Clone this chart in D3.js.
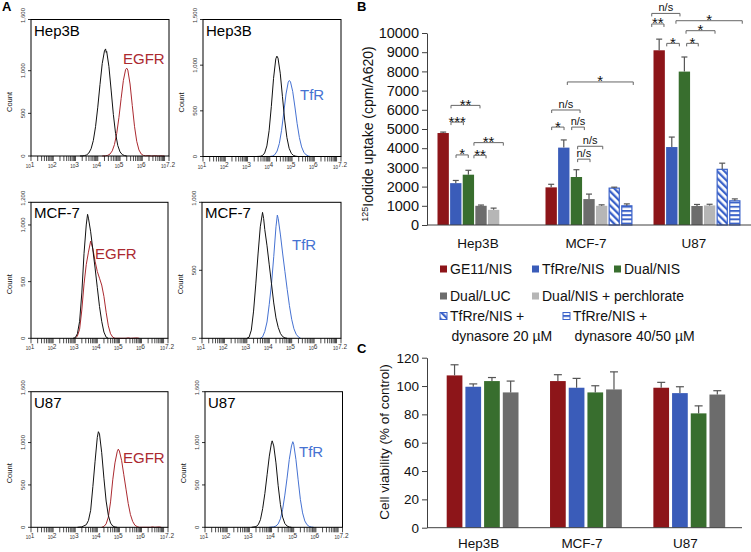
<!DOCTYPE html>
<html><head><meta charset="utf-8">
<script src="https://cdn.jsdelivr.net/npm/d3@7/dist/d3.min.js"></script>
<style>body{margin:0;background:#fff}svg{display:block;font-family:"Liberation Sans",Arial,Helvetica,sans-serif}</style>
</head><body><svg id="c" width="751" height="552"></svg>
<script>
// ---------------- DATA ----------------
const cellLines = ["Hep3B", "MCF-7", "U87"];

// Panel B: 125I uptake (cpm/A620)
const uptakeSeries = ["GE11/NIS", "TfRre/NIS", "Dual/NIS", "Dual/LUC", "Dual/NIS + perchlorate",
  "TfRre/NIS + dynasore 20 µM", "TfRre/NIS + dynasore 40/50 µM"];
const uptakeMean = [
  [4790, 2180, 2620, 1000, 790, null, null],
  [1960, 4030, 2500, 1350, 1000, 1920, 1000],
  [9100, 4060, 7990, 990, 1020, 2900, 1260]
];
const uptakeErr = [
  [50, 140, 230, 40, 90, null, null],
  [160, 400, 380, 260, 50, 50, 100],
  [580, 520, 760, 80, 60, 320, 100]
];
const uptakeTicks = [0, 1000, 2000, 3000, 4000, 5000, 6000, 7000, 8000, 9000, 10000];
// significance brackets: [cell line, from slot, to slot, level (cpm), label]
const sigBrackets = [
  ["Hep3B", 1.07, 3.37, 6230, "**"],
  ["Hep3B", 1.07, 2.05, 5360, "***"],
  ["Hep3B", 1.47, 2.44, 3650, "*"],
  ["Hep3B", 2.89, 3.85, 3630, "**"],
  ["Hep3B", 2.89, 5.22, 4290, "**"],
  ["MCF-7", 1.73, 6.96, 7450, "*"],
  ["MCF-7", 0.49, 2.74, 5990, "n/s"],
  ["MCF-7", 0.49, 1.47, 5100, "*"],
  ["MCF-7", 2.08, 3.08, 5100, "n/s"],
  ["MCF-7", 2.55, 4.54, 4100, "n/s"],
  ["MCF-7", 2.55, 3.53, 3430, "n/s"],
  ["U87", -0.14, 2.10, 11020, "n/s"],
  ["U87", -0.14, 0.83, 10470, "**"],
  ["U87", 1.78, 7.04, 10640, "*"],
  ["U87", 2.58, 4.88, 10120, "*"],
  ["U87", 1.05, 2.05, 9460, "*"],
  ["U87", 2.63, 3.55, 9460, "*"]
];
const legendLabels = [["GE11/NIS"], ["TfRre/NIS"], ["Dual/NIS"], ["Dual/LUC"], ["Dual/NIS + perchlorate"],
  ["TfRre/NIS +", "dynasore 20 µM"], ["TfRre/NIS +", "dynasore 40/50 µM"]];

// Panel C: cell viability (% of control)
const viabSeries = ["GE11/NIS", "TfRre/NIS", "Dual/NIS", "Dual/LUC"];
const viabMean = [
  [107.5, 99.5, 103.5, 95.5],
  [103.5, 98.8, 95.5, 97.6],
  [98.8, 95.0, 80.7, 94.0]
];
const viabErr = [
  [7.5, 2.0, 2.5, 8.0],
  [4.5, 6.6, 4.7, 12.4],
  [3.8, 4.5, 5.3, 2.7]
];
const viabTicks = [0, 20, 40, 60, 80, 100, 120];

// Panel A: flow cytometry histograms, points = [log10 fluorescence, count]
const flowCells = ["Hep3B", "Hep3B", "MCF-7", "MCF-7", "U87", "U87"];
const flowMarkers = ["EGFR", "TfR", "EGFR", "TfR", "EGFR", "TfR"];
const flowYTop = [1600, 1500, 1200, 1000, 1600, 1600];
const flowYTicks = [[0, 500, 1000, 1600], [0, 500, 1000, 1500], [0, 500, 1000, 1200], [0, 500, 1000], [0, 500, 1000, 1600], [0, 500, 1000, 1600]];
const flowXTicks = [1, 2, 3, 4, 5, 6, 7.2];

const ctrlHep3BEGFR = [[3.2,0],[3.3,1],[3.4,4],[3.5,13],[3.6,35],[3.7,85],[3.8,181],[3.9,344],[4.0,572],[4.1,839],[4.2,1083],[4.3,1230],[4.35,1255],[4.38,1215],[4.4,1226],[4.5,1051],[4.6,773],[4.7,487],[4.8,263],[4.9,122],[5.0,48],[5.1,17],[5.2,5],[5.3,0]];
const stainHep3BEGFR = [[4.2,0],[4.35,2],[4.45,8],[4.55,23],[4.65,60],[4.75,134],[4.85,262],[4.95,450],[5.05,676],[5.15,885],[5.25,1013],[5.3,1030],[5.35,1007],[5.45,844],[5.55,593],[5.65,348],[5.75,172],[5.85,71],[5.95,24],[6.05,7],[6.15,2],[6.3,4],[6.4,0],[6.6,3],[6.7,0],[6.9,2],[7.0,0]];
const ctrlHep3BTfR = [[3.4,0],[3.57,2],[3.67,10],[3.77,38],[3.87,116],[3.97,282],[4.07,549],[4.17,856],[4.27,1069],[4.32,1099],[4.37,1077],[4.47,912],[4.57,655],[4.67,399],[4.77,207],[4.87,90],[4.97,33],[5.07,11],[5.17,3],[5.27,0]];
const stainHep3BTfR = [[4.0,0],[4.13,6],[4.23,21],[4.33,60],[4.43,143],[4.53,287],[4.63,483],[4.73,684],[4.83,814],[4.88,832],[4.93,818],[5.03,713],[5.13,542],[5.23,359],[5.33,208],[5.43,105],[5.53,46],[5.63,18],[5.73,6],[5.83,0]];
const ctrlMCF7EGFR = [[2.9,0],[3.0,5],[3.1,40],[3.2,150],[3.3,400],[3.4,750],[3.5,1000],[3.56,1094],[3.6,1060],[3.7,940],[3.8,780],[3.9,620],[4.0,450],[4.1,280],[4.2,150],[4.3,55],[4.4,10],[4.5,0]];
const stainMCF7EGFR = [[3.0,0],[3.1,20],[3.2,80],[3.3,250],[3.4,480],[3.5,650],[3.6,760],[3.7,858],[3.8,790],[3.9,680],[4.0,590],[4.1,530],[4.2,470],[4.3,370],[4.4,230],[4.5,110],[4.6,40],[4.7,10],[4.8,0],[5.3,0],[5.4,4],[5.5,0],[5.8,3],[5.9,0]];
const ctrlMCF7TfR = [[3.0,0],[3.1,8],[3.2,60],[3.3,200],[3.4,400],[3.5,620],[3.6,820],[3.7,926],[3.75,880],[3.8,800],[3.9,680],[4.0,540],[4.1,400],[4.2,260],[4.3,150],[4.4,80],[4.5,35],[4.6,12],[4.7,3],[4.8,0]];
const stainMCF7TfR = [[3.6,0],[3.7,10],[3.8,50],[3.9,120],[4.0,250],[4.1,400],[4.2,600],[4.3,820],[4.36,906],[4.4,880],[4.5,760],[4.6,620],[4.7,490],[4.8,360],[4.9,240],[5.0,140],[5.1,70],[5.2,30],[5.3,10],[5.4,0]];
const ctrlU87EGFR = [[3.1,0],[3.3,5],[3.5,30],[3.6,80],[3.7,200],[3.8,480],[3.9,780],[4.0,1060],[4.05,1128],[4.1,1100],[4.2,880],[4.3,580],[4.4,310],[4.5,140],[4.6,50],[4.7,15],[4.8,3],[4.9,0]];
const stainU87EGFR = [[4.2,0],[4.3,10],[4.4,40],[4.5,120],[4.6,300],[4.7,560],[4.8,760],[4.9,890],[4.95,922],[5.0,900],[5.1,790],[5.2,620],[5.3,450],[5.4,280],[5.5,150],[5.6,70],[5.7,25],[5.8,8],[5.9,0],[6.4,0],[6.5,5],[6.6,0],[6.8,4],[6.9,0]];
const ctrlU87TfR = [[3.1,0],[3.3,8],[3.4,30],[3.5,90],[3.6,220],[3.7,400],[3.8,620],[3.9,840],[4.0,1000],[4.03,1020],[4.1,960],[4.2,760],[4.3,490],[4.4,270],[4.5,120],[4.6,45],[4.7,15],[4.8,4],[4.9,0]];
const stainU87TfR = [[3.9,0],[4.1,5],[4.2,15],[4.3,40],[4.4,100],[4.5,210],[4.6,380],[4.7,580],[4.8,800],[4.9,960],[4.96,1010],[5.0,980],[5.1,800],[5.2,560],[5.3,330],[5.4,170],[5.5,75],[5.6,30],[5.7,10],[5.8,3],[5.9,0]];

// ---------------- STYLE ----------------
const RED = "#8d1519", BLUE = "#3a5cb9", GREEN = "#386e2e", DGRAY = "#6c6c6c", LGRAY = "#b6b6b6", HATCH = "#3b62c9";
const EGFR_C = "#ab2a30", TFR_C = "#4672d2";
const AX = "#404040";

const svg = d3.select("#c");
const defs = svg.append("defs");
const pd = defs.append("pattern").attr("id", "pDiag").attr("patternUnits", "userSpaceOnUse")
  .attr("width", 5).attr("height", 5).attr("patternTransform", "rotate(-45)");
pd.append("rect").attr("width", 5).attr("height", 5).attr("fill", "#fff");
pd.append("rect").attr("width", 2.3).attr("height", 5).attr("fill", HATCH);
const ph = defs.append("pattern").attr("id", "pHorz").attr("patternUnits", "userSpaceOnUse")
  .attr("width", 4).attr("height", 4.2);
ph.append("rect").attr("width", 4).attr("height", 4.2).attr("fill", "#fff");
ph.append("rect").attr("width", 4).attr("height", 1.9).attr("fill", HATCH);

const uptakeFill = [RED, BLUE, GREEN, DGRAY, LGRAY, "url(#pDiag)", "url(#pHorz)"];
const uptakeStroke = [null, null, null, null, null, HATCH, HATCH];

// ---------------- PANEL A ----------------
const flowCurves = [
  [ctrlHep3BEGFR, stainHep3BEGFR], [ctrlHep3BTfR, stainHep3BTfR],
  [ctrlMCF7EGFR, stainMCF7EGFR], [ctrlMCF7TfR, stainMCF7TfR],
  [ctrlU87EGFR, stainU87EGFR], [ctrlU87TfR, stainU87TfR]
];
const flowBoxes = [[31, 19.5, 169, 156], [203, 19.5, 341, 156.5], [31, 202.3, 168, 338.3], [202, 202.3, 341, 338.3], [31, 391.7, 168, 527.3], [205, 391.7, 342.5, 527.3]];
const markerPos = [[123, 64], [300, 100], [95, 259], [292, 250], [123, 463], [299, 457]];

flowCells.forEach((cell, i) => {
  const [x0, y0, x1, y1] = flowBoxes[i];
  const x = d3.scaleLog().domain([10, Math.pow(10, 7.2)]).range([x0, x1]);
  const y = d3.scaleLinear().domain([0, flowYTop[i]]).range([y1, y0]);
  const g = svg.append("g");
  const line = d3.line().x(d => x(Math.pow(10, d[0]))).y(d => y(d[1]));
  const col = flowMarkers[i] === "EGFR" ? EGFR_C : TFR_C;
  g.append("path").datum(flowCurves[i][1]).attr("d", line).attr("fill", "none").attr("stroke", col).attr("stroke-width", 1);
  g.append("path").datum(flowCurves[i][0]).attr("d", line).attr("fill", "none").attr("stroke", "#111").attr("stroke-width", 1);
  g.append("rect").attr("x", x0).attr("y", y0).attr("width", x1 - x0).attr("height", y1 - y0)
    .attr("fill", "none").attr("stroke", "#000").attr("stroke-width", 1);
  flowYTicks[i].forEach(v => {
    const yy = y(v);
    g.append("line").attr("x1", x0 - 3).attr("x2", x0).attr("y1", yy).attr("y2", yy).attr("stroke", "#000").attr("stroke-width", 0.8);
    const ly = v === flowYTop[i] ? yy - 4 : yy;
    g.append("text").attr("transform", `translate(${x0 - 6},${ly}) rotate(-90)`)
      .attr("text-anchor", "middle").attr("font-size", 6).attr("fill", "#333")
      .text(d3.format(",")(v));
  });
  g.append("text").attr("transform", `translate(${x0 - 19},${y1 - 54}) rotate(-90)`)
    .attr("text-anchor", "middle").attr("font-size", 7.5).attr("fill", "#111").text("Count");
  const minor = [];
  for (let d = 1; d <= 7; d++) for (let k = 1; k <= 9; k++) {
    const v = k * Math.pow(10, d);
    if (v <= Math.pow(10, 7.2) * 1.0001) minor.push(v);
  }
  minor.push(Math.pow(10, 7.2));
  g.selectAll(null).data(minor).enter().append("line")
    .attr("x1", d => x(d)).attr("x2", d => x(d)).attr("y1", y1).attr("y2", y1 + 5)
    .attr("stroke", "#000").attr("stroke-width", 0.7);
  flowXTicks.forEach(e => {
    const t = g.append("text").attr("x", x(Math.pow(10, e)) - 1).attr("y", y1 + 12)
      .attr("text-anchor", "middle").attr("fill", "#333");
    t.append("tspan").attr("font-size", 4.5).text("10");
    t.append("tspan").attr("font-size", 6.5).attr("dy", -1.5).text(e === 7.2 ? "7.2" : e);
  });
  g.append("text").attr("x", x0 + 3).attr("y", y0 + 16).attr("font-size", 15).attr("fill", "#000").text(cell);
  g.append("text").attr("x", markerPos[i][0]).attr("y", markerPos[i][1]).attr("font-size", 15).attr("fill", col).text(flowMarkers[i]);
});

// ---------------- PANEL B ----------------
const yB = d3.scaleLinear().domain([0, 10000]).range([225, 33]);
const xB = d3.scaleBand().domain(cellLines).range([427, 751]);
const xBs = d3.scaleBand().domain(d3.range(7)).range([10.5, 97.5]).paddingInner(0.1);
const slotX = (c, s) => xB(c) + 10.5 + s * xBs.step();

const gB = svg.append("g");
cellLines.forEach((c, ci) => {
  uptakeMean[ci].forEach((v, si) => {
    if (v == null) return;
    const bx = xB(c) + xBs(si), bw = xBs.bandwidth();
    const r = gB.append("rect").attr("y", yB(v)).attr("height", yB(0) - yB(v)).attr("fill", uptakeFill[si]);
    if (uptakeStroke[si]) r.attr("x", bx + 0.6).attr("width", bw - 1.2).attr("stroke", uptakeStroke[si]).attr("stroke-width", 1.2);
    else r.attr("x", bx).attr("width", bw);
    const e = uptakeErr[ci][si], cx = bx + bw / 2;
    gB.append("line").attr("x1", cx).attr("x2", cx).attr("y1", yB(v)).attr("y2", yB(v + e)).attr("stroke", "#555").attr("stroke-width", 1.2);
    gB.append("line").attr("x1", cx - 3).attr("x2", cx + 3).attr("y1", yB(v + e)).attr("y2", yB(v + e)).attr("stroke", "#555").attr("stroke-width", 1.2);
  });
});
const axB = gB.append("g").attr("transform", "translate(427,0)")
  .call(d3.axisLeft(yB).tickValues(uptakeTicks).tickSize(5).tickSizeOuter(0).tickPadding(3).tickFormat(d3.format("d")));
axB.selectAll("text").attr("font-size", 14.5).attr("fill", "#111").attr("font-family", "Liberation Sans, Arial, sans-serif");
axB.selectAll("line,path").attr("stroke", AX);
gB.append("line").attr("x1", 427).attr("x2", 751).attr("y1", yB(0)).attr("y2", yB(0)).attr("stroke", AX);
cellLines.forEach(c => {
  gB.append("text").attr("x", xB(c) + xB.bandwidth() / 2 - 3).attr("y", 248).attr("text-anchor", "middle")
    .attr("font-size", 13.5).attr("fill", "#111").text(c);
});
const yt = gB.append("text").attr("transform", "translate(373,134) rotate(-90)").attr("text-anchor", "middle")
  .attr("font-size", 14).attr("fill", "#111");
yt.append("tspan").attr("font-size", 9).attr("dy", -5).text("125");
yt.append("tspan").attr("dy", 5).text("Iodide uptake (cpm/A620)");

// brackets
sigBrackets.forEach(([c, s1, s2, lvl, lab]) => {
  const xa = slotX(c, s1), xb2 = slotX(c, s2), yy = yB(lvl);
  gB.append("path").attr("d", `M${xa},${yy + 3}V${yy}H${xb2}V${yy + 3}`).attr("fill", "none").attr("stroke", "#666").attr("stroke-width", 1);
  const star = lab !== "n/s";
  gB.append("text").attr("x", (xa + xb2) / 2).attr("y", star ? yy + 4.5 : yy - 2)
    .attr("text-anchor", "middle").attr("font-size", star ? 15 : 11).attr("fill", "#111").text(lab);
});

// legend
const legRows = [[0, 1, 2], [3, 4], [5, 6]];
const legX = [[440, 532, 614], [440, 532], [440, 563]];
const legY = [269, 296, 316];
legRows.forEach((row, ri) => row.forEach((si, k) => {
  const sx = legX[ri][k], sy = legY[ri];
  const r = gB.append("rect").attr("x", sx).attr("y", sy - 3.5).attr("width", 7).attr("height", 7).attr("fill", uptakeFill[si]);
  if (uptakeStroke[si]) r.attr("stroke", uptakeStroke[si]).attr("stroke-width", 1);
  legendLabels[si].forEach((ln, li) => {
    gB.append("text").attr("x", sx + 10 + li * 1.5).attr("y", sy + 5 + li * 19.5).attr("font-size", 14).attr("fill", "#111").text(ln);
  });
}));

// ---------------- PANEL C ----------------
const yC = d3.scaleLinear().domain([0, 120]).range([527.7, 357.7]);
const xC = d3.scaleBand().domain(cellLines).range([430, 740]);
const xCs = d3.scaleBand().domain(d3.range(4)).range([15.2, 90]).paddingInner(0.16).paddingOuter(0.08);
const viabFill = [RED, BLUE, GREEN, DGRAY];
const gC = svg.append("g");
cellLines.forEach((c, ci) => {
  viabMean[ci].forEach((v, si) => {
    const bx = xC(c) + xCs(si), bw = xCs.bandwidth();
    gC.append("rect").attr("x", bx).attr("width", bw).attr("y", yC(v)).attr("height", yC(0) - yC(v)).attr("fill", viabFill[si]);
    const e = viabErr[ci][si], cx = bx + bw / 2;
    gC.append("line").attr("x1", cx).attr("x2", cx).attr("y1", yC(v)).attr("y2", yC(v + e)).attr("stroke", "#555").attr("stroke-width", 1.2);
    gC.append("line").attr("x1", cx - 4).attr("x2", cx + 4).attr("y1", yC(v + e)).attr("y2", yC(v + e)).attr("stroke", "#555").attr("stroke-width", 1.2);
  });
});
const axC = gC.append("g").attr("transform", "translate(427,0)")
  .call(d3.axisLeft(yC).tickValues(viabTicks).tickSize(5).tickSizeOuter(0).tickPadding(3));
axC.selectAll("text").attr("font-size", 13.5).attr("fill", "#111").attr("font-family", "Liberation Sans, Arial, sans-serif");
axC.selectAll("line,path").attr("stroke", AX);
gC.append("line").attr("x1", 427).attr("x2", 742).attr("y1", yC(0)).attr("y2", yC(0)).attr("stroke", AX);
cellLines.forEach(c => {
  gC.append("text").attr("x", xC(c) + xC.bandwidth() / 2 - 3).attr("y", 548).attr("text-anchor", "middle")
    .attr("font-size", 13.5).attr("fill", "#111").text(c);
});
gC.append("text").attr("transform", "translate(389,442) rotate(-90)").attr("text-anchor", "middle")
  .attr("font-size", 13.5).attr("fill", "#111").text("Cell viability (% of control)");

// panel letters
[["A", 2, 11], ["B", 357, 11], ["C", 357, 353]].forEach(([t, x, y]) => {
  svg.append("text").attr("x", x).attr("y", y).attr("font-size", 13).attr("font-weight", "bold").attr("fill", "#000").text(t);
});
</script></body></html>
